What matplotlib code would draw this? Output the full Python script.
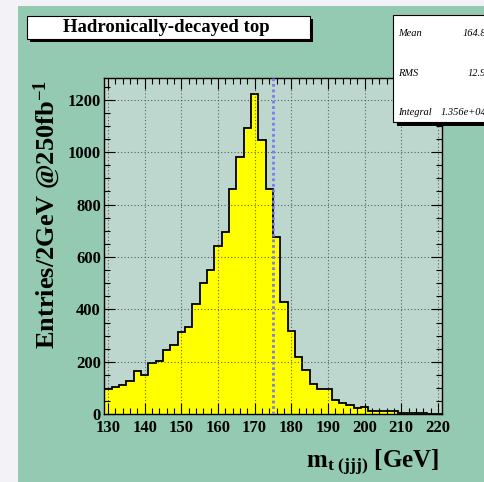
import numpy as np
import matplotlib.pyplot as plt
from matplotlib.patches import Rectangle
from matplotlib.ticker import MultipleLocator

plt.rcParams['font.family'] = ['Liberation Serif', 'DejaVu Serif']
plt.rcParams['font.weight'] = 'bold'
plt.rcParams['mathtext.fontset'] = 'custom'
plt.rcParams['mathtext.rm'] = 'Liberation Serif:bold'
plt.rcParams['mathtext.it'] = 'Liberation Serif:bold'
plt.rcParams['mathtext.bf'] = 'Liberation Serif:bold'
plt.rcParams['mathtext.default'] = 'rm'

# reconstructed three-jet mass, 2 GeV bins centred on 130 ... 220
bin_centres = np.arange(130, 221, 2)
entries = [95, 103, 110, 128, 166, 150, 196, 204, 247, 266,
           314, 332, 421, 500, 549, 642, 697, 860, 982, 1094,
           1222, 1045, 860, 677, 430, 319, 219, 168, 117, 97,
           97, 53, 43, 37, 25, 28, 14, 13, 12, 11,
           6, 5, 4, 4, 3, 2]
top_mass = 175.0

title = "Hadronically-decayed top"
stats_names = ["Mean", "RMS", "Integral"]
stats_values = ["164.8", "12.9", "1.356e+04"]
x_ticks = np.arange(130, 221, 10)
y_ticks = np.arange(0, 1201, 200)

edges = np.append(bin_centres - 1, bin_centres[-1] + 1)

W, H = 484, 482
fig = plt.figure(figsize=(W / 100, H / 100), dpi=100, facecolor='#f3f3f7')


def fx(x):
    return x / W


def fy(y):
    return 1 - y / H


# canvas
fig.add_artist(Rectangle((fx(18), 0), 1, fy(6), transform=fig.transFigure,
                         facecolor='#94c9b2', edgecolor='none', zorder=0))

ax = fig.add_axes([fx(104.3), fy(414.3), fx(441.5) - fx(104.3), fy(78) - fy(414.3)])
ax.set_facecolor('#bdd7cf')

ax.stairs(entries, edges, fill=True, color='#ffff00', zorder=1)
ax.stairs(entries, edges, color='black', linewidth=1.3, zorder=1.2)
ax.axvline(top_mass, color='#7b7bf0', linestyle=(0, (1, 1)), linewidth=2, zorder=3)

ax.set_xlim(129, 221)
ax.set_ylim(0, 1283)
ax.set_xticks(x_ticks)
ax.set_yticks(y_ticks)
ax.xaxis.set_minor_locator(MultipleLocator(2))
ax.yaxis.set_minor_locator(MultipleLocator(50))
ax.tick_params(which='both', direction='in', top=True, right=True, width=0.8)
ax.tick_params(which='major', length=8, labelsize=12)
ax.tick_params(which='minor', length=4)
ax.tick_params(axis='y', pad=2.5)
ax.tick_params(axis='x', pad=4)
ax.set_axisbelow(False)
ax.grid(True, which='major', color='#404040', linestyle=(0, (1, 2)), linewidth=0.8, alpha=0.8)
for s in ax.spines.values():
    s.set_linewidth(1.0)

fig.text(fx(47), fy(80), "Entries/2GeV @250fb$^{-1}$", rotation=90,
         ha='center', va='top', fontsize=19)
fig.text(fx(439), fy(467), r"m$_{\rm t\ (jjj)}$ [GeV]", ha='right', va='baseline', fontsize=18)

# title box with shadow
fig.add_artist(Rectangle((fx(30), fy(42)), fx(283), 23 / H, transform=fig.transFigure,
                         facecolor='black', edgecolor='none', zorder=5))
fig.add_artist(Rectangle((fx(27), fy(39)), fx(283), 23 / H, transform=fig.transFigure,
                         facecolor='white', edgecolor='black', linewidth=0.8, zorder=6))
fig.text(fx(166), fy(27.5), title, ha='center', va='center', fontsize=13.5, zorder=7)

# statistics box
fig.add_artist(Rectangle((fx(397), fy(125.5)), fx(100), 4 / H, transform=fig.transFigure,
                         facecolor='black', edgecolor='none', zorder=5))
fig.add_artist(Rectangle((fx(393), fy(122)), fx(100), 107 / H, transform=fig.transFigure,
                         facecolor='white', edgecolor='black', linewidth=0.8, zorder=6))
for i, (name, val) in enumerate(zip(stats_names, stats_values)):
    yy = 34 + 39 * i
    fig.text(fx(398), fy(yy), name, ha='left', va='center', fontsize=7.5,
             style='italic', weight='normal', zorder=7)
    fig.text(fx(486), fy(yy), val, ha='right', va='center', fontsize=7.5,
             style='italic', weight='normal', zorder=7)

fig.savefig('out.png', dpi=100, facecolor=fig.get_facecolor())
